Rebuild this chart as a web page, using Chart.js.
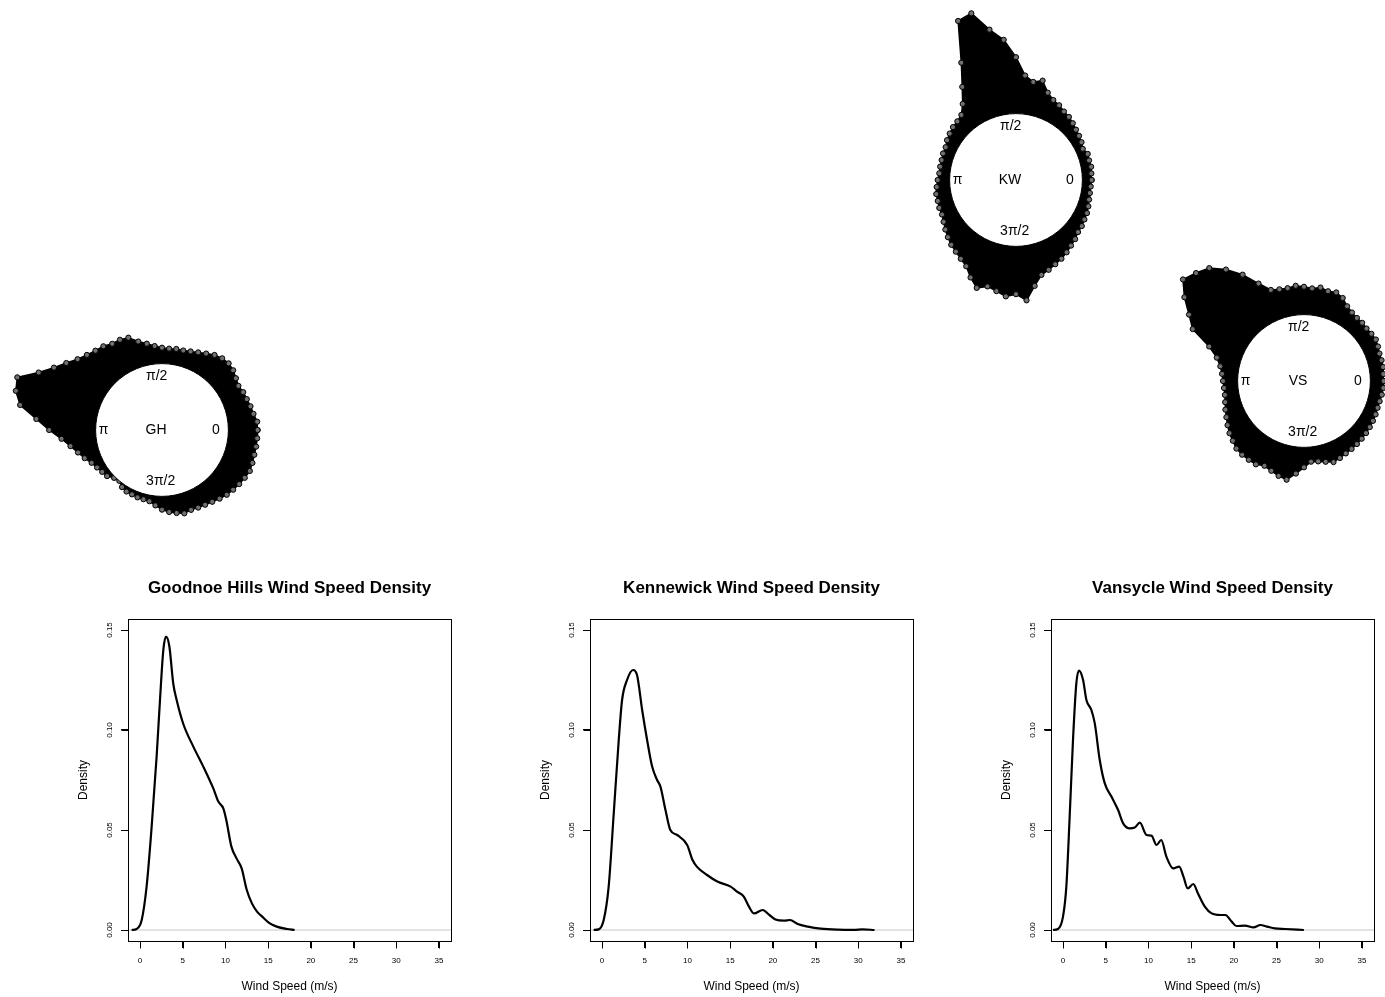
<!DOCTYPE html>
<html>
<head>
<meta charset="utf-8">
<script src="https://cdn.jsdelivr.net/npm/chart.js@4.4.1/dist/chart.umd.min.js"></script>
<style>
html,body{margin:0;padding:0;background:#fff;overflow:hidden;}
#wrap{position:relative;width:1385px;height:997px;overflow:hidden;background:#fff;}
#wrap canvas{position:absolute;}
</style>
</head>
<body>
<div id="wrap"></div>
<script>
// ---------- DATA ----------
// wind direction bins (degrees, 0 = east, counter-clockwise)
const dirAngles = [0,5,10,15,20,25,30,35,40,45,50,55,60,65,70,75,80,85,90,95,100,105,110,115,
  120,125,130,135,140,145,150,155,160,165,170,175,180,185,190,195,200,205,210,215,220,225,230,235,
  240,245,250,255,260,265,270,275,280,285,290,295,300,305,310,315,320,325,330,335,340,345,350,355];
// outer extent of stacked observations (in units of circle radius)
const ghStack = [1.44,1.44,1.40,1.38,1.36,1.35,1.33,1.36,1.40,1.42,1.41,1.38,1.33,1.29,1.26,1.24,1.24,1.23,
  1.24,1.27,1.32,1.38,1.48,1.50,1.50,1.54,1.56,1.60,1.66,1.76,1.88,2.05,2.32,2.28,2.17,1.90,
  1.70,1.52,1.40,1.31,1.24,1.17,1.13,1.10,1.08,1.02,1.00,1.05,1.07,1.07,1.08,1.08,1.09,1.14,
  1.20,1.24,1.27,1.30,1.28,1.29,1.30,1.32,1.35,1.38,1.40,1.42,1.44,1.46,1.45,1.44,1.44,1.44];
const kwStack = [1.14,1.14,1.15,1.14,1.15,1.11,1.14,1.16,1.18,1.21,1.24,1.26,1.30,1.33,1.40,1.55,1.50,1.58,
  1.85,2.12,2.30,2.60,2.55,1.95,1.62,1.40,1.28,1.25,1.24,1.22,1.20,1.17,1.17,1.16,1.16,1.16,
  1.18,1.20,1.22,1.22,1.23,1.23,1.26,1.30,1.34,1.38,1.41,1.45,1.50,1.62,1.73,1.66,1.70,1.76,
  1.72,1.82,1.62,1.48,1.44,1.40,1.37,1.33,1.29,1.26,1.22,1.21,1.19,1.18,1.16,1.14,1.13,1.13];
const vsStack = [1.20,1.20,1.21,1.21,1.21,1.23,1.25,1.24,1.23,1.24,1.24,1.26,1.30,1.38,1.42,1.40,1.43,1.40,
  1.42,1.44,1.42,1.43,1.46,1.62,1.85,2.05,2.22,2.30,2.38,2.20,2.00,1.85,1.52,1.36,1.28,1.24,
  1.22,1.21,1.21,1.23,1.26,1.29,1.33,1.37,1.40,1.44,1.45,1.45,1.45,1.41,1.44,1.48,1.51,1.40,
  1.30,1.22,1.23,1.26,1.30,1.28,1.26,1.25,1.24,1.23,1.22,1.21,1.20,1.19,1.18,1.18,1.19,1.20];
const circleLabels = ['0','\u03c0/2','\u03c0','3\u03c0/2'];
const stationNames = ['GH','KW','VS'];

// wind speed densities
const ghSpeed   = [-0.98,-0.39,0.2,0.78,1.37,1.95,2.34,2.73,3.04,3.43,3.9,4.29,5.07,6.24,7.41,8.58,9.17,9.75,10.1,10.7,11.3,11.9,12.5,13.1,13.7,14.4,15.2,16.0,17.2,18.1];
const ghDensity = [0,0.0005,0.005,0.022,0.052,0.087,0.115,0.14,0.1467,0.142,0.123,0.115,0.103,0.0917,0.0817,0.0708,0.0642,0.0608,0.055,0.0417,0.0358,0.0308,0.02,0.0133,0.0092,0.0063,0.0033,0.0017,0.0005,0];
const kwSpeed   = [-0.98,-0.39,0.2,0.78,1.37,1.96,2.35,2.93,3.64,4.1,4.7,5.28,5.87,6.45,6.84,7.43,8.0,8.8,9.97,10.6,11.1,12.3,13.5,15.06,15.8,16.6,17.2,17.8,18.8,19.6,20.3,21.3,22.0,22.9,24.1,25.6,27.6,29.5,30.5,31.9];
const kwDensity = [0,0.0003,0.005,0.0217,0.058,0.095,0.115,0.125,0.13,0.1275,0.11,0.095,0.0817,0.075,0.0717,0.06,0.05,0.0475,0.0425,0.035,0.0317,0.0275,0.0242,0.0217,0.0192,0.0167,0.0117,0.0083,0.01,0.0075,0.0053,0.0047,0.005,0.003,0.0017,0.0007,0.0002,0.0001,0.0003,0];
const vsSpeed   = [-1.17,-0.59,0,0.39,0.78,1.17,1.56,1.88,2.35,2.74,3.32,3.72,4.3,4.89,5.67,6.45,7.04,7.82,8.4,9.0,9.78,10.36,10.95,11.5,12.1,12.9,13.6,14.1,14.6,15.25,15.8,16.6,17.4,18.4,19.0,19.75,20.3,21.3,22.3,23.1,23.9,24.8,26.0,28.2];
const vsDensity = [0,0.0005,0.0067,0.0217,0.0567,0.095,0.1233,0.1297,0.125,0.115,0.11,0.1033,0.085,0.0733,0.0667,0.06,0.0533,0.0508,0.0512,0.0537,0.0475,0.0472,0.0425,0.045,0.0367,0.0308,0.0317,0.0267,0.0208,0.023,0.0183,0.0117,0.0083,0.0075,0.0075,0.0042,0.002,0.0022,0.0013,0.0025,0.0017,0.0008,0.0005,0];
const densityTitles = ['Goodnoe Hills Wind Speed Density','Kennewick Wind Speed Density','Vansycle Wind Speed Density'];
const speedTicks = [0,5,10,15,20,25,30,35];
const densityTicks = [0,0.05,0.10,0.15];
const densityTickLabels = ['0.00','0.05','0.10','0.15'];
const speedLimits = [-1.405,36.405];
const densityLimits = [-0.0055,0.1555];

// ---------- LAYOUT / STYLE ----------
const FONT = '"Liberation Sans", Arial, Helvetica, sans-serif';
const wrap = document.getElementById('wrap');
const ROSE_UNIT = 68, ROSE_HALF = 210;
const roseCenters = [[162,429.5],[1016,180],[1304,380.7]];
const labelPos = [[0.81,0],[-0.08,0.81],[-0.88,0],[-0.02,-0.765]];
const namePos = [-0.09,0];
const TICK_LEN = 7;

function roseOverlay(name){
  return {id:'roseOverlay', afterDatasetsDraw(chart){
    const {ctx, scales:{x,y}} = chart;
    const cx = x.getPixelForValue(0), cy = y.getPixelForValue(0);
    const r = x.getPixelForValue(1) - cx;
    ctx.save();
    ctx.beginPath(); ctx.arc(cx,cy,r,0,2*Math.PI);
    ctx.fillStyle='#fff'; ctx.fill();
    ctx.lineWidth=1; ctx.strokeStyle='#000'; ctx.stroke();
    ctx.fillStyle='#000'; ctx.font='14px '+FONT; ctx.textAlign='center'; ctx.textBaseline='middle';
    circleLabels.forEach((t,i)=>ctx.fillText(t, x.getPixelForValue(labelPos[i][0]), y.getPixelForValue(labelPos[i][1])));
    ctx.fillText(name, x.getPixelForValue(namePos[0]), y.getPixelForValue(namePos[1]));
    ctx.restore();
  }};
}

function makeRose(idx, stack){
  const c = document.createElement('canvas');
  c.width = 2*ROSE_HALF; c.height = 2*ROSE_HALF;
  c.style.left = (roseCenters[idx][0]-ROSE_HALF)+'px';
  c.style.top = (roseCenters[idx][1]-ROSE_HALF)+'px';
  wrap.appendChild(c);
  const pts = dirAngles.map((a,i)=>({x: stack[i]*Math.cos(a*Math.PI/180), y: stack[i]*Math.sin(a*Math.PI/180)}));
  pts.push({x:pts[0].x, y:pts[0].y});
  const lim = ROSE_HALF/ROSE_UNIT;
  new Chart(c, {
    type:'scatter',
    data:{datasets:[{data:pts, showLine:true, fill:'shape', backgroundColor:'#000', borderColor:'#000', borderWidth:1.5,
      pointRadius:2.6, pointStyle:'circle', pointBorderColor:'#000', pointBackgroundColor:'#707070', pointBorderWidth:1, tension:0}]},
    options:{responsive:false, animation:false, devicePixelRatio:1, events:[], layout:{padding:0},
      plugins:{legend:{display:false}, tooltip:{enabled:false}},
      scales:{x:{type:'linear', min:-lim, max:lim, display:false}, y:{type:'linear', min:-lim, max:lim, display:false}}},
    plugins:[roseOverlay(stationNames[idx])]
  });
}

const boxPlugin = {id:'boxPlugin', afterDraw(chart){
  const {ctx, chartArea:a, scales:{x,y}} = chart;
  ctx.save(); ctx.strokeStyle='#000'; ctx.lineWidth=1;
  const L = Math.round(a.left)+0.5, T = Math.round(a.top)+0.5, R = Math.round(a.right)+0.5, B = Math.round(a.bottom)+0.5;
  ctx.strokeRect(L, T, R-L, B-T);
  ctx.beginPath();
  x.ticks.forEach(t=>{ const px = Math.round(x.getPixelForValue(t.value))+0.5; ctx.moveTo(px,B); ctx.lineTo(px,B+TICK_LEN); });
  y.ticks.forEach(t=>{ const py = Math.round(y.getPixelForValue(t.value))+0.5; ctx.moveTo(L,py); ctx.lineTo(L-TICK_LEN,py); });
  ctx.stroke();
  const t = chart.options.plugins.boxTitle.text;
  ctx.fillStyle='#000'; ctx.font='bold 17px '+FONT; ctx.textAlign='center'; ctx.textBaseline='middle';
  ctx.fillText(t, (a.left+a.right)/2, a.top-31);
  ctx.restore();
}};

function makeDensity(col, speed, dens){
  const c = document.createElement('canvas');
  c.width = 461; c.height = 437;
  c.style.left = (col*461.5)+'px'; c.style.top = '560px';
  wrap.appendChild(c);
  const gridOpts = {display:true, drawOnChartArea:false, drawTicks:true, tickLength:TICK_LEN, color:'#000', tickColor:'#000', lineWidth:1};
  new Chart(c, {
    type:'line',
    data:{datasets:[
      {data: speed.map((s,i)=>({x:s, y:dens[i]})), borderColor:'#000', borderWidth:2.2, pointRadius:0, cubicInterpolationMode:'monotone', fill:false},
      {data: [{x:speedLimits[0], y:0},{x:speedLimits[1], y:0}], borderColor:'#c8c8c8', borderWidth:1, pointRadius:0, fill:false}
    ]},
    options:{responsive:false, animation:false, devicePixelRatio:1, events:[],
      layout:{padding:{left:68, right:10, top:59, bottom:0}},
      plugins:{legend:{display:false}, tooltip:{enabled:false}, boxTitle:{text:densityTitles[col]}},
      scales:{
        x:{type:'linear', min:speedLimits[0], max:speedLimits[1],
          afterBuildTicks: s => { s.ticks = speedTicks.map(v=>({value:v})); },
          afterFit: s => { s.height = 56; },
          grid:gridOpts, border:{display:false},
          ticks:{color:'#000', font:{size:8, family:FONT}, padding:8, maxRotation:0, minRotation:0, autoSkip:false, callback:(v,i)=>String(speedTicks[i])},
          title:{display:true, text:'Wind Speed (m/s)', color:'#000', font:{size:12, family:FONT}, padding:{top:0, bottom:3}}
        },
        y:{type:'linear', min:densityLimits[0], max:densityLimits[1],
          afterBuildTicks: s => { s.ticks = densityTicks.map(v=>({value:v})); },
          afterFit: s => { s.width = 60; },
          grid:gridOpts, border:{display:false},
          ticks:{color:'#000', font:{size:8, family:FONT}, padding:3, minRotation:90, maxRotation:90, crossAlign:'center', autoSkip:false, callback:(v,i)=>densityTickLabels[i]},
          title:{display:true, text:'Density', color:'#000', font:{size:12, family:FONT}, padding:{top:8, bottom:0}}
        }
      }
    },
    plugins:[boxPlugin]
  });
}

makeRose(0, ghStack);
makeRose(1, kwStack);
makeRose(2, vsStack);
makeDensity(0, ghSpeed, ghDensity);
makeDensity(1, kwSpeed, kwDensity);
makeDensity(2, vsSpeed, vsDensity);
</script>
</body>
</html>
